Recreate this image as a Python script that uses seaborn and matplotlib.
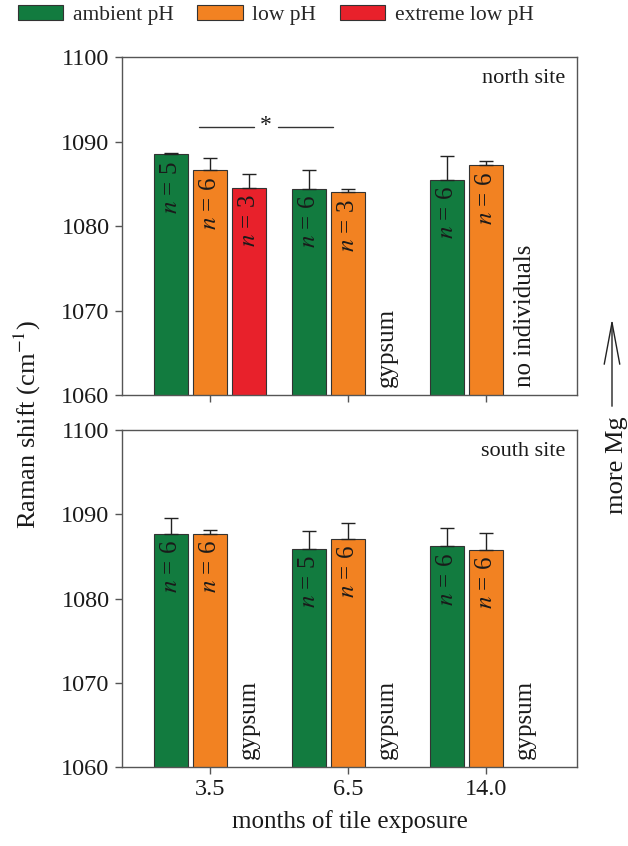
import numpy as np
import pandas as pd
import seaborn as sns
import matplotlib.pyplot as plt
from matplotlib.patches import FancyArrowPatch

# categories
months = ["3.5", "6.5", "14.0"]
treatments = ["ambient pH", "low pH", "extreme low pH"]
colours = ["#127b3f", "#f28222", "#e8212b"]

# north site (means, upper SD, n)
north_month = ["3.5", "3.5", "3.5", "6.5", "6.5", "14.0", "14.0"]
north_treat = ["ambient pH", "low pH", "extreme low pH",
               "ambient pH", "low pH", "ambient pH", "low pH"]
north_mean = [1088.5, 1086.6, 1084.5, 1084.4, 1084.0, 1085.5, 1087.2]
north_sd = [0.1, 1.5, 1.7, 2.2, 0.4, 2.8, 0.5]
north_n = [5, 6, 3, 6, 3, 6, 6]
north_notes = {"6.5": "gypsum", "14.0": "no individuals"}

# south site
south_month = ["3.5", "3.5", "6.5", "6.5", "14.0", "14.0"]
south_treat = ["ambient pH", "low pH"] * 3
south_mean = [1087.7, 1087.7, 1085.9, 1087.1, 1086.2, 1085.8]
south_sd = [1.9, 0.4, 2.1, 1.9, 2.2, 2.0]
south_n = [6, 6, 5, 6, 6, 6]
south_notes = {"3.5": "gypsum", "6.5": "gypsum", "14.0": "gypsum"}

yticks = [1060, 1070, 1080, 1090, 1100]

sns.set_style("ticks")
plt.rcParams["font.family"] = ["Liberation Serif", "DejaVu Serif"]
plt.rcParams["mathtext.fontset"] = "stix"
plt.rcParams["font.size"] = 16

GROUP_W = 0.85
STEP = GROUP_W / 3
AX_COL = "#555555"
TXT = "#1a1a1a"


def draw_panel(ax, month, treat, mean, sd, n, notes, site, legend):
    df = pd.DataFrame({"month": month, "treatment": treat, "shift": mean})
    sns.barplot(data=df, x="month", y="shift", hue="treatment",
                order=months, hue_order=treatments,
                palette=dict(zip(treatments, colours)), saturation=1,
                width=GROUP_W, gap=0.13, errorbar=None,
                edgecolor="#333333", linewidth=0.8, ax=ax, legend=legend)
    lookup = {(m, t): (s, k) for m, t, s, k in zip(month, treat, sd, n)}
    for p in ax.patches:
        xc = p.get_x() + p.get_width() / 2
        ci = int(round(xc))
        hi = int(round((xc - ci) / STEP)) + 1
        s, k = lookup[(months[ci], treatments[hi])]
        top = p.get_height()
        ax.errorbar(xc, top, yerr=[[0], [s]], fmt="none", ecolor="#222222",
                    elinewidth=1, capsize=4.7, capthick=1, zorder=1)
        ax.text(xc, top - 0.8, "$n$ = %d" % k, rotation=90, ha="center",
                va="top", fontsize=18, color=TXT)
    for m, note in notes.items():
        ax.text(months.index(m) + STEP, 1060.9, note, rotation=90,
                ha="center", va="bottom", fontsize=18, color=TXT)
    ax.text(0.975, 0.965, site, transform=ax.transAxes, ha="right",
            va="top", fontsize=16, color=TXT)
    ax.set_xlim(-0.64, 2.66)
    ax.set_ylim(1060, 1100)
    ax.set_yticks(yticks)
    ax.set_ylabel("")
    for sp in ax.spines.values():
        sp.set_visible(True)
        sp.set_color(AX_COL)
        sp.set_linewidth(1)
    ax.tick_params(axis="both", direction="out", length=5, width=1,
                   color=AX_COL, labelsize=17.5, pad=4, labelcolor=TXT)


fig = plt.figure(figsize=(6.28, 8.46), dpi=100)
ax1 = fig.add_axes([0.1943, 0.5331, 0.7245, 0.3995])
ax2 = fig.add_axes([0.1943, 0.0934, 0.7245, 0.3983])

draw_panel(ax1, north_month, north_treat, north_mean, north_sd, north_n,
           north_notes, "north site", True)
draw_panel(ax2, south_month, south_treat, south_mean, south_sd, south_n,
           south_notes, "south site", False)

ax1.tick_params(axis="x", labelbottom=False)
ax1.set_xlabel("")
ax2.set_xlabel("months of tile exposure", fontsize=18, labelpad=7, color=TXT)

# significance bar between 3.5 and 6.5 months (north)
sig_y = 1091.7
ax1.plot([-0.08, 0.32], [sig_y, sig_y], color="#333333", lw=1)
ax1.plot([0.49, 0.89], [sig_y, sig_y], color="#333333", lw=1)
ax1.text(0.405, sig_y + 0.2, "*", ha="center", va="center", fontsize=17, color=TXT)

handles, labels = ax1.get_legend_handles_labels()
ax1.get_legend().remove()
fig.legend(handles, labels, loc="center left", bbox_to_anchor=(0.0287, 0.982),
           ncol=3, frameon=False, handlelength=2.1, handletextpad=0.45,
           columnspacing=1.1, borderaxespad=0, borderpad=0, fontsize=15.5)

fig.text(27 / 628, 1 - 425 / 846, "Raman shift (cm$^{-1}$)", rotation=90,
         ha="center", va="center", fontsize=19, color=TXT)
fig.text(617 / 628, 1 - 465 / 846, "more Mg", rotation=90, ha="center",
         va="center", fontsize=19, color=TXT)
fig.add_artist(FancyArrowPatch(
    (612 / 628, 1 - 409 / 846), (612 / 628, 1 - 316 / 846),
    transform=fig.transFigure, arrowstyle="->,head_length=1.5,head_width=0.28",
    mutation_scale=20, color="#222222", lw=1))

fig.savefig("out.png", dpi=100)
